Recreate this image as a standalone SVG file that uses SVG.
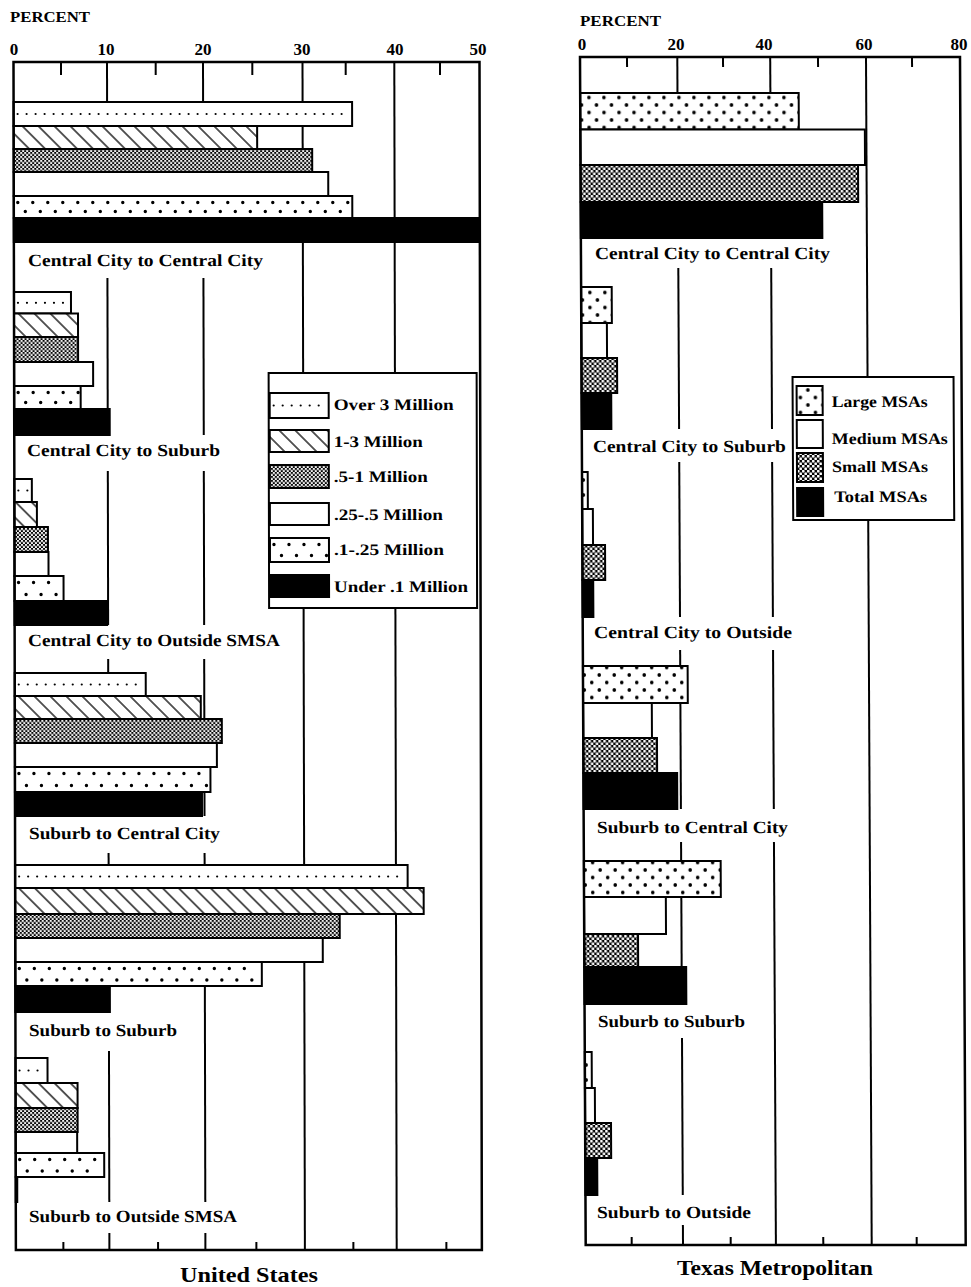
<svg xmlns="http://www.w3.org/2000/svg" width="971" height="1287" viewBox="0 0 971 1287">
<style>
.fr{fill:none;stroke:#000;stroke-width:2.5}
.gl{stroke:#000;stroke-width:2}
.tk{stroke:#000;stroke-width:2}
.gap{fill:#fff}
.b{stroke:#000;stroke-width:2}
.w{fill:#fff}
.k{fill:#000}
.st{fill:url(#stip)}
.st2{fill:url(#stip2)}
.hat{fill:url(#hatch)}
.lg{fill:url(#large)}
.d1{stroke:#000;stroke-width:2.2;stroke-dasharray:0 9;stroke-linecap:round;fill:none}
.d2{stroke:#000;stroke-width:3.4;stroke-dasharray:0 15;stroke-linecap:round;fill:none}
text{font-family:"Liberation Serif","DejaVu Serif",serif;font-weight:bold;fill:#000}
.lab{font-size:17px}
.ax{font-size:17px;text-anchor:middle}
.leg{font-size:16px}
.ttl{font-size:21px}
.pc{font-size:15px}
</style>
<defs>
<pattern id="hatch" patternUnits="userSpaceOnUse" width="11.3" height="11.3" patternTransform="rotate(-45)">
<rect width="11.3" height="11.3" fill="#fff"/>
<line x1="5.65" y1="-1" x2="5.65" y2="12.3" stroke="#000" stroke-width="1.3"/>
</pattern>
<pattern id="stip" patternUnits="userSpaceOnUse" width="4" height="4">
<rect width="4" height="4" fill="#000"/>
<circle cx="1" cy="1" r="1.15" fill="#fff"/>
<circle cx="3" cy="3" r="1.15" fill="#fff"/>
</pattern>
<pattern id="stip2" patternUnits="userSpaceOnUse" width="5" height="5">
<rect width="5" height="5" fill="#000"/>
<circle cx="1.25" cy="1.25" r="1.45" fill="#fff"/>
<circle cx="3.75" cy="3.75" r="1.45" fill="#fff"/>
</pattern>
<pattern id="large" patternUnits="userSpaceOnUse" x="0" y="3.75" width="15" height="15">
<rect width="15" height="15" fill="#fff"/>
<circle cx="3.75" cy="3.75" r="1.8" fill="#000"/>
<circle cx="11.25" cy="11.25" r="1.8" fill="#000"/>
</pattern>
</defs>
<rect width="971" height="1287" fill="#fff"/>

<!-- ===== United States chart ===== -->
<g id="us-axis-labels">
<text class="pc" x="10" y="22" textLength="80" lengthAdjust="spacingAndGlyphs">PERCENT</text>
<text class="ax" x="14" y="55">0</text>
<text class="ax" x="106" y="55">10</text>
<text class="ax" x="203" y="55">20</text>
<text class="ax" x="302" y="55">30</text>
<text class="ax" x="395" y="55">40</text>
<text class="ax" x="478" y="55">50</text>
</g>
<g id="us-chart" transform="translate(0,62) skewX(0.115) translate(0,-62)">
<g id="us-grid">
<line class="gl" x1="107" y1="62" x2="107" y2="1250"/>
<line class="gl" x1="203" y1="62" x2="203" y2="1250"/>
<line class="gl" x1="302.5" y1="62" x2="302.5" y2="1250"/>
<line class="gl" x1="394.3" y1="62" x2="394.3" y2="1250"/>
</g>
<g id="us-gaps">
<rect class="gap" x="15" y="242" width="255" height="36"/>
<rect class="gap" x="15" y="435" width="210" height="36"/>
<rect class="gap" x="15" y="625" width="270" height="34"/>
<rect class="gap" x="15" y="816" width="210" height="37"/>
<rect class="gap" x="15" y="1012" width="167" height="39"/>
<rect class="gap" x="15" y="1202" width="227" height="31"/>
</g>
<g id="us-g1">
<rect class="b w" x="13.5" y="102" width="338.5" height="24"/>
<line class="d1" x1="17.5" y1="114" x2="350" y2="114"/>
<rect class="b hat" x="13.5" y="126" width="243.5" height="23"/>
<rect class="b st" x="13.5" y="149" width="298.5" height="23"/>
<rect class="b w" x="13.5" y="172" width="314.5" height="24"/>
<rect class="b w" x="13.5" y="196" width="338.5" height="22"/>
<line class="d2" x1="17.5" y1="202.5" x2="350" y2="202.5"/>
<line class="d2" x1="25" y1="211.5" x2="350" y2="211.5"/>
<rect class="b k" x="13.5" y="218" width="466" height="24"/>
<text class="lab" x="27.6" y="266" textLength="235" lengthAdjust="spacingAndGlyphs">Central City to Central City</text>
</g>
<g id="us-g2">
<rect class="b w" x="13.5" y="292" width="57" height="21.5"/>
<line class="d1" x1="17.5" y1="302.8" x2="68" y2="302.8"/>
<rect class="b hat" x="13.5" y="313.5" width="64" height="23.5"/>
<rect class="b st" x="13.5" y="337" width="64" height="25"/>
<rect class="b w" x="13.5" y="362" width="79" height="24"/>
<rect class="b w" x="13.5" y="386" width="66.5" height="23"/>
<line class="d2" x1="17.5" y1="392.5" x2="78" y2="392.5"/>
<line class="d2" x1="25" y1="402.5" x2="78" y2="402.5"/>
<rect class="b k" x="13.5" y="409" width="95.5" height="26"/>
<text class="lab" x="26.2" y="456" textLength="193" lengthAdjust="spacingAndGlyphs">Central City to Suburb</text>
</g>
<g id="us-g3">
<rect class="b w" x="13.5" y="479" width="17.5" height="23"/>
<line class="d1" x1="17.5" y1="490.5" x2="29" y2="490.5"/>
<rect class="b hat" x="13.5" y="502" width="22.5" height="25"/>
<rect class="b st" x="13.5" y="527" width="33.5" height="25"/>
<rect class="b w" x="13.5" y="552" width="34" height="24"/>
<rect class="b w" x="13.5" y="576" width="49" height="25"/>
<line class="d2" x1="17.5" y1="582.5" x2="60" y2="582.5"/>
<line class="d2" x1="25" y1="594.5" x2="60" y2="594.5"/>
<rect class="b k" x="13.5" y="601" width="92.5" height="24"/>
<text class="lab" x="26.8" y="646" textLength="252" lengthAdjust="spacingAndGlyphs">Central City to Outside SMSA</text>
</g>
<g id="us-g4">
<rect class="b w" x="13.5" y="673" width="131" height="23"/>
<line class="d1" x1="17.5" y1="684.5" x2="142" y2="684.5"/>
<rect class="b hat" x="13.5" y="696" width="186" height="23"/>
<rect class="b st" x="13.5" y="719" width="207" height="24"/>
<rect class="b w" x="13.5" y="743" width="202" height="24"/>
<rect class="b w" x="13.5" y="767" width="195.5" height="25"/>
<line class="d2" x1="17.5" y1="773.5" x2="206" y2="773.5"/>
<line class="d2" x1="25" y1="785.5" x2="206" y2="785.5"/>
<rect class="b k" x="13.5" y="792" width="187" height="24"/>
<text class="lab" x="27.4" y="839" textLength="191" lengthAdjust="spacingAndGlyphs">Suburb to Central City</text>
</g>
<g id="us-g5">
<rect class="b w" x="13.5" y="865" width="392.5" height="23"/>
<line class="d1" x1="17.5" y1="876.5" x2="403" y2="876.5"/>
<rect class="b hat" x="13.5" y="888" width="408.5" height="26"/>
<rect class="b st" x="13.5" y="914" width="324.5" height="24"/>
<rect class="b w" x="13.5" y="938" width="307.5" height="24"/>
<rect class="b w" x="13.5" y="962" width="246.5" height="24"/>
<line class="d2" x1="17.5" y1="968.5" x2="257" y2="968.5"/>
<line class="d2" x1="25" y1="980" x2="257" y2="980"/>
<rect class="b k" x="13.5" y="986" width="94.5" height="26"/>
<text class="lab" x="27.1" y="1036" textLength="148" lengthAdjust="spacingAndGlyphs">Suburb to Suburb</text>
</g>
<g id="us-g6">
<rect class="b w" x="13.5" y="1058" width="32" height="25"/>
<line class="d1" x1="17.5" y1="1070.5" x2="43" y2="1070.5"/>
<rect class="b hat" x="13.5" y="1083" width="62" height="25"/>
<rect class="b st" x="13.5" y="1108" width="62" height="24"/>
<rect class="b w" x="13.5" y="1132" width="61.5" height="21"/>
<rect class="b w" x="13.5" y="1153" width="88.5" height="24"/>
<line class="d2" x1="17.5" y1="1159.5" x2="99" y2="1159.5"/>
<line class="d2" x1="25" y1="1171" x2="99" y2="1171"/>
<rect class="b k" x="13.5" y="1177" width="1.5" height="25"/>
<text class="lab" x="26.7" y="1222" textLength="208" lengthAdjust="spacingAndGlyphs">Suburb to Outside SMSA</text>
</g>
<g id="us-legend">
<rect x="268" y="373" width="208" height="235" fill="#fff" stroke="#000" stroke-width="2"/>
<rect class="b w" x="269" y="393" width="59" height="25"/>
<line class="d1" x1="273" y1="405.5" x2="326" y2="405.5"/>
<rect class="b hat" x="269" y="430" width="59" height="22"/>
<rect class="b st" x="269" y="465" width="59" height="23"/>
<rect class="b w" x="269" y="503" width="59" height="22"/>
<rect class="b w" x="269" y="538" width="59" height="24"/>
<line class="d2" x1="273" y1="544.5" x2="326" y2="544.5"/>
<line class="d2" x1="280.5" y1="555.5" x2="326" y2="555.5"/>
<rect class="b k" x="269" y="575" width="59" height="22"/>
<text class="leg" x="333" y="410" textLength="120" lengthAdjust="spacingAndGlyphs">Over 3 Million</text>
<text class="leg" x="333" y="447" textLength="89" lengthAdjust="spacingAndGlyphs">1-3 Million</text>
<text class="leg" x="333" y="482" textLength="94" lengthAdjust="spacingAndGlyphs">.5-1 Million</text>
<text class="leg" x="333" y="520" textLength="109" lengthAdjust="spacingAndGlyphs">.25-.5 Million</text>
<text class="leg" x="333" y="555" textLength="110" lengthAdjust="spacingAndGlyphs">.1-.25 Million</text>
<text class="leg" x="333" y="592" textLength="134" lengthAdjust="spacingAndGlyphs">Under .1 Million</text>
</g>
<g id="us-frame">
<rect class="fr" x="13.5" y="62" width="466" height="1188"/>
<line class="tk" x1="61" y1="62" x2="61" y2="75"/>
<line class="tk" x1="155.7" y1="62" x2="155.7" y2="75"/>
<line class="tk" x1="252.3" y1="62" x2="252.3" y2="75"/>
<line class="tk" x1="345.7" y1="62" x2="345.7" y2="75"/>
<line class="tk" x1="440" y1="62" x2="440" y2="75"/>
<line class="tk" x1="61" y1="1242" x2="61" y2="1250"/>
<line class="tk" x1="155.7" y1="1242" x2="155.7" y2="1250"/>
<line class="tk" x1="254" y1="1242" x2="254" y2="1250"/>
<line class="tk" x1="351" y1="1242" x2="351" y2="1250"/>
<line class="tk" x1="444" y1="1242" x2="444" y2="1250"/>
</g>
</g>
<text id="us-title" class="ttl" x="180" y="1282" textLength="138" lengthAdjust="spacingAndGlyphs">United States</text>

<!-- ===== Texas chart ===== -->
<g id="tx-axis-labels">
<text class="pc" x="580" y="26" textLength="81" lengthAdjust="spacingAndGlyphs">PERCENT</text>
<text class="ax" x="582" y="50">0</text>
<text class="ax" x="676" y="50">20</text>
<text class="ax" x="764" y="50">40</text>
<text class="ax" x="864" y="50">60</text>
<text class="ax" x="959" y="50">80</text>
</g>
<g id="tx-chart" transform="translate(0,57) skewX(0.275) translate(0,-57)">
<g id="tx-grid">
<line class="gl" x1="677.3" y1="57" x2="677.3" y2="1245"/>
<line class="gl" x1="770.2" y1="57" x2="770.2" y2="1245"/>
<line class="gl" x1="866" y1="57" x2="866" y2="1245"/>
</g>
<g id="tx-gaps">
<rect class="gap" x="581.5" y="238" width="253.5" height="30"/>
<rect class="gap" x="581.5" y="429" width="208.5" height="33"/>
<rect class="gap" x="581.5" y="617" width="215.5" height="33"/>
<rect class="gap" x="581.5" y="809" width="210.5" height="33"/>
<rect class="gap" x="581.5" y="1004" width="168.5" height="34"/>
<rect class="gap" x="581.5" y="1195" width="174.5" height="30"/>
</g>
<g id="tx-g1">
<rect class="b lg" x="580" y="93" width="218.5" height="36.5"/>
<rect class="b w" x="580" y="129.5" width="284.5" height="35.5"/>
<rect class="b st2" x="580" y="165" width="277.5" height="37"/>
<rect class="b k" x="580" y="202" width="241.5" height="36"/>
<text class="lab" x="594" y="259" textLength="235" lengthAdjust="spacingAndGlyphs">Central City to Central City</text>
</g>
<g id="tx-g2">
<rect class="b lg" x="580" y="287" width="30.6" height="36"/>
<rect class="b w" x="580" y="323" width="25.6" height="35"/>
<rect class="b st2" x="580" y="358" width="35.6" height="35"/>
<rect class="b k" x="580" y="393" width="29.6" height="36"/>
<text class="lab" x="591" y="452" textLength="193" lengthAdjust="spacingAndGlyphs">Central City to Suburb</text>
</g>
<g id="tx-g3">
<rect class="b lg" x="580" y="472" width="5.7" height="37"/>
<rect class="b w" x="580" y="509" width="10.7" height="36"/>
<rect class="b st2" x="580" y="545" width="22.7" height="35"/>
<rect class="b k" x="580" y="580" width="10.7" height="37"/>
<text class="lab" x="591.2" y="638" textLength="198" lengthAdjust="spacingAndGlyphs">Central City to Outside</text>
</g>
<g id="tx-g4">
<rect class="b lg" x="580" y="666" width="104.7" height="37"/>
<rect class="b w" x="580" y="703" width="68.7" height="35"/>
<rect class="b st2" x="580" y="738" width="73.7" height="35"/>
<rect class="b k" x="580" y="773" width="93.7" height="36"/>
<text class="lab" x="593.3" y="833" textLength="191" lengthAdjust="spacingAndGlyphs">Suburb to Central City</text>
</g>
<g id="tx-g5">
<rect class="b lg" x="580" y="861" width="136.8" height="36"/>
<rect class="b w" x="580" y="897" width="81.8" height="37"/>
<rect class="b st2" x="580" y="934" width="53.8" height="33"/>
<rect class="b k" x="580" y="967" width="101.8" height="37"/>
<text class="lab" x="593.3" y="1027" textLength="147" lengthAdjust="spacingAndGlyphs">Suburb to Suburb</text>
</g>
<g id="tx-g6">
<rect class="b lg" x="580" y="1052" width="6.9" height="36"/>
<rect class="b w" x="580" y="1088" width="9.9" height="35"/>
<rect class="b st2" x="580" y="1123" width="25.9" height="35"/>
<rect class="b k" x="580" y="1158" width="11.9" height="37"/>
<text class="lab" x="591.4" y="1218" textLength="154" lengthAdjust="spacingAndGlyphs">Suburb to Outside</text>
</g>
<g id="tx-legend">
<rect x="791" y="377" width="161" height="143" fill="#fff" stroke="#000" stroke-width="2"/>
<rect class="b lg" x="795" y="386" width="26" height="29"/>
<rect class="b w" x="795" y="420" width="26" height="28"/>
<rect class="b st2" x="795" y="453" width="26" height="29"/>
<rect class="b k" x="795" y="488" width="26" height="28"/>
<text class="leg" x="830" y="407" textLength="96" lengthAdjust="spacingAndGlyphs">Large MSAs</text>
<text class="leg" x="830" y="444" textLength="116" lengthAdjust="spacingAndGlyphs">Medium MSAs</text>
<text class="leg" x="830" y="472" textLength="96" lengthAdjust="spacingAndGlyphs">Small MSAs</text>
<text class="leg" x="832" y="502" textLength="93" lengthAdjust="spacingAndGlyphs">Total MSAs</text>
</g>
<g id="tx-frame">
<rect class="fr" x="580" y="57" width="380" height="1188"/>
<line class="tk" x1="627" y1="57" x2="627" y2="67"/>
<line class="tk" x1="723" y1="57" x2="723" y2="67"/>
<line class="tk" x1="818" y1="57" x2="818" y2="67"/>
<line class="tk" x1="912" y1="57" x2="912" y2="67"/>
<line class="tk" x1="626" y1="1237" x2="626" y2="1245"/>
<line class="tk" x1="725" y1="1237" x2="725" y2="1245"/>
<line class="tk" x1="817.6" y1="1237" x2="817.6" y2="1245"/>
<line class="tk" x1="911" y1="1237" x2="911" y2="1245"/>
</g>
</g>
<text id="tx-title" class="ttl" x="677" y="1275" textLength="196" lengthAdjust="spacingAndGlyphs">Texas Metropolitan</text>
</svg>
